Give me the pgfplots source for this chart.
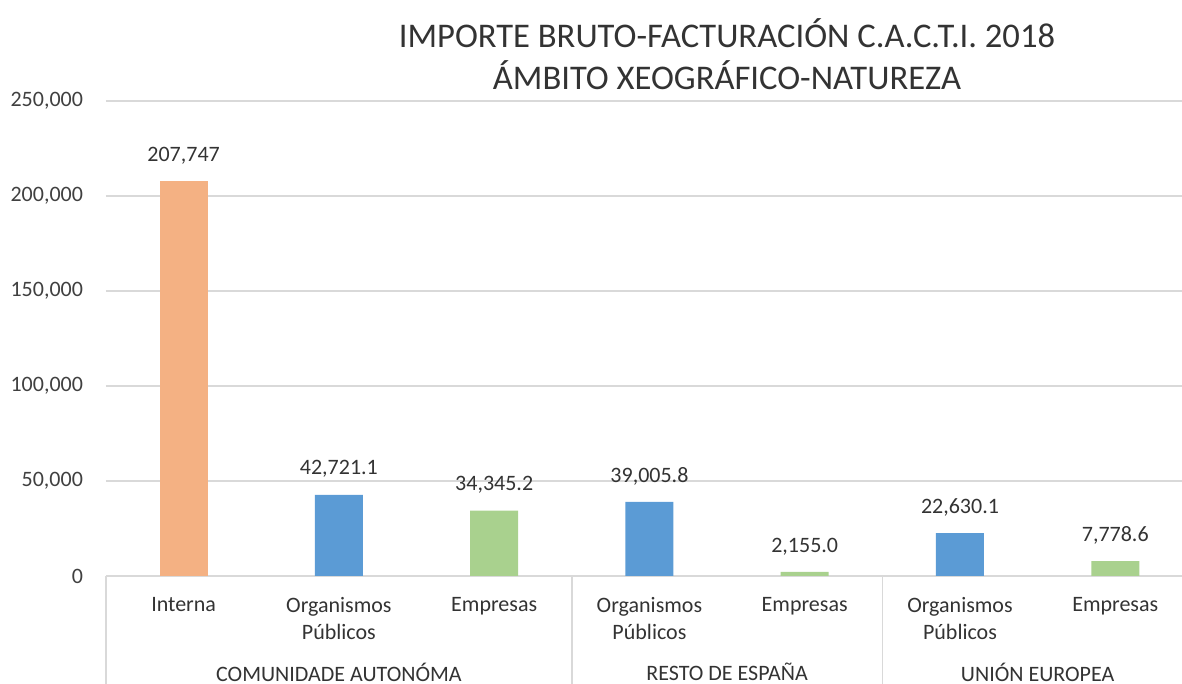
\documentclass[border=0pt]{standalone}
\usepackage{pgfplots}
\pgfplotsset{compat=1.18}
\usepackage{fontspec}
\setmainfont{Carlito}
\definecolor{corange}{HTML}{F4B183}
\definecolor{cblue}{HTML}{5B9BD5}
\definecolor{cgreen}{HTML}{A9D18E}
\definecolor{gridgray}{HTML}{D9D9D9}
\definecolor{textgray}{HTML}{333333}
\definecolor{ticktext}{HTML}{404040}
\begin{document}
\begin{tikzpicture}
\useasboundingbox (-53pt,-54pt) rectangle (538pt,288pt);
\begin{axis}[
  at={(0,0)}, anchor=south west,
  width=538pt, height=237.5pt, scale only axis,
  xmin=-0.5, xmax=6.43, ymin=0, ymax=250000,
  ytick={0,50000,100000,150000,200000,250000},
  scaled y ticks=false,
  /pgf/number format/fixed,
  /pgf/number format/1000 sep={,},
  /pgf/number format/assume math mode=true,
  y tick label style={font=\fontsize{11}{13}\selectfont, text=ticktext, xshift=-8pt},
  ymajorgrids, grid style={color=gridgray, line width=0.7pt},
  axis lines*=left,
  y axis line style={draw=none},
  x axis line style={color=gridgray, line width=0.7pt},
  ybar, bar width=24pt, bar shift=0pt,
  xtick={0,1,2,3,4,5,6},
  xticklabels={Interna, {Organismos\\Públicos}, Empresas, {Organismos\\Públicos}, Empresas, {Organismos\\Públicos}, Empresas},
  xticklabel style={align=center, anchor=north, yshift=-7pt, font=\fontsize{11}{13.5}\selectfont, text=textgray},
  tick align=outside,
  major tick length=0pt,
  extra x ticks={-0.5,2.5,4.5},
  extra x tick labels={},
  extra x tick style={major tick length=54pt, xmajorgrids=false, tick style={color=gridgray, line width=0.7pt}},
  ytick style={draw=none},
  nodes near coords,
  point meta=explicit symbolic,
  nodes near coords style={font=\fontsize{11}{13}\selectfont, text=textgray, yshift=5pt},
  clip=false,
]
\addplot[fill=corange, draw=none] table[meta=lab] {
x y lab
0 207747 207,747
};
\addplot[fill=cblue, draw=none] table[meta=lab] {
x y lab
1 42721.1 42,721.1
3 39005.8 39,005.8
5 22630.1 22,630.1
};
\addplot[fill=cgreen, draw=none] table[meta=lab] {
x y lab
2 34345.2 34,345.2
4 2155.0 2,155.0
6 7778.6 7,778.6
};
\node[font=\fontsize{11}{13}\selectfont, text=textgray] at (axis cs:1,0) [yshift=-48pt] {COMUNIDADE AUTONÓMA};
\node[font=\fontsize{11}{13}\selectfont, text=textgray] at (axis cs:3.5,0) [yshift=-48pt] {RESTO DE ESPAÑA};
\node[font=\fontsize{11}{13}\selectfont, text=textgray] at (axis cs:5.5,0) [yshift=-48pt] {UNIÓN EUROPEA};
\end{axis}
\node[align=center, font=\fontsize{17.3}{21}\selectfont, text=textgray] at (310.5pt,261pt) {IMPORTE BRUTO-FACTURACIÓN C.A.C.T.I. 2018\\ÁMBITO XEOGRÁFICO-NATUREZA};
\end{tikzpicture}
\end{document}
